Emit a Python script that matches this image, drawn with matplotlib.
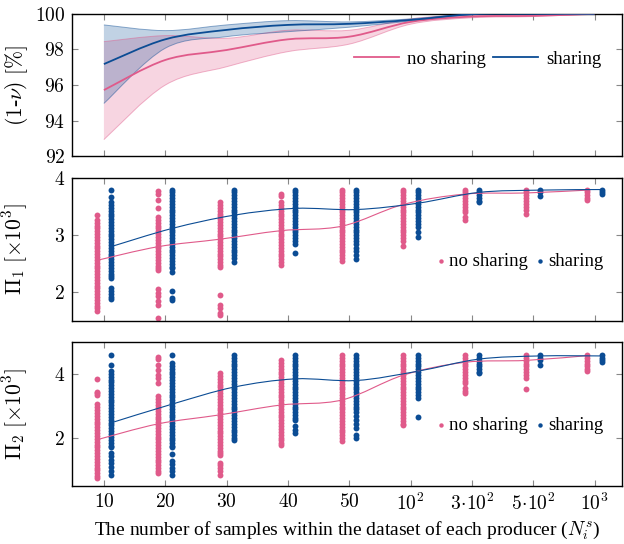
import numpy as np
import matplotlib
matplotlib.use('Agg')
import matplotlib.pyplot as plt
from matplotlib.path import Path
from matplotlib.patches import PathPatch

plt.rcParams['font.family'] = ['Liberation Serif', 'DejaVu Serif']
plt.rcParams['mathtext.fontset'] = 'cm'
plt.rcParams['font.size'] = 14

# categories on the x axis
x_labels = [r'$10$', r'$20$', r'$30$', r'$40$', r'$50$', r'$10^2$',
            r'$3\!\cdot\!10^2$', r'$5\!\cdot\!10^2$', r'$10^3$']
xpos = np.arange(1, len(x_labels) + 1)

# top panel: (1-nu) [%], mean and band
ns_mean = [95.72, 97.41, 97.97, 98.57, 98.72, 99.55, 99.85, 99.89, 100.0]
ns_lo = [92.94, 96.0, 97.03, 97.88, 98.3, 99.42, 99.78, 99.85, 100.0]
ns_hi = [98.44, 98.78, 98.63, 99.08, 99.08, 99.72, 99.95, 99.98, 100.0]
sh_mean = [97.18, 98.57, 99.1, 99.38, 99.44, 99.66, 99.98, 100.0, 100.0]
sh_lo = [94.97, 98.07, 98.72, 99.0, 99.25, 99.6, 99.95, 100.0, 100.0]
sh_hi = [99.38, 99.06, 99.38, 99.62, 99.55, 99.72, 100.0, 100.0, 100.0]

# middle panel: Pi_1 samples per column
pi1_ns = [
    [3.35, 3.27, 3.22, 3.17, 3.12, 3.07, 3.02, 2.97, 2.92, 2.87, 2.82, 2.77, 2.72, 2.67,
     2.62, 2.57, 2.52, 2.47, 2.42, 2.37, 2.32, 2.27, 2.22, 2.17, 2.12, 2.07, 2.02, 1.97,
     1.92, 1.87, 1.82, 1.77, 1.72, 1.67],
    [3.78, 3.73, 3.61, 3.47, 3.32, 3.27, 3.22, 3.17, 3.12, 3.07, 3.02, 2.97, 2.92, 2.87,
     2.82, 2.77, 2.72, 2.67, 2.62, 2.57, 2.52, 2.47, 2.43, 2.39, 2.06, 1.99, 1.93, 1.85,
     1.78, 1.56],
    [3.58, 3.53, 3.48, 3.43, 3.38, 3.33, 3.28, 3.23, 3.18, 3.13, 3.08, 3.03, 2.98, 2.93,
     2.88, 2.83, 2.78, 2.73, 2.68, 2.63, 2.58, 2.53, 2.48, 2.45, 1.95, 1.78, 1.72, 1.64,
     1.6],
    [3.73, 3.68, 3.58, 3.53, 3.48, 3.43, 3.38, 3.33, 3.28, 3.23, 3.18, 3.13, 3.08, 3.03,
     2.98, 2.93, 2.88, 2.83, 2.78, 2.73, 2.68, 2.63, 2.58, 2.53, 2.48],
    [3.8, 3.75, 3.7, 3.65, 3.6, 3.55, 3.5, 3.45, 3.4, 3.35, 3.3, 3.25, 3.2, 3.15, 3.1,
     3.05, 3.0, 2.95, 2.9, 2.85, 2.8, 2.75, 2.7, 2.65, 2.6, 2.55],
    [3.8, 3.75, 3.7, 3.65, 3.6, 3.55, 3.5, 3.45, 3.4, 3.35, 3.3, 3.25, 3.2, 3.15, 3.1,
     3.05, 3.0, 2.96, 2.9, 2.81],
    [3.8, 3.75, 3.7, 3.65, 3.6, 3.55, 3.5, 3.45, 3.4, 3.32, 3.27],
    [3.8, 3.75, 3.7, 3.65, 3.6, 3.55, 3.5, 3.45, 3.38],
    [3.8, 3.75, 3.7, 3.65, 3.62],
]
pi1_sh = [
    [3.8, 3.67, 3.58, 3.53, 3.48, 3.43, 3.38, 3.33, 3.28, 3.23, 3.18, 3.13, 3.08, 3.03,
     2.98, 2.93, 2.88, 2.83, 2.78, 2.73, 2.68, 2.63, 2.58, 2.53, 2.48, 2.43, 2.38, 2.33,
     2.28, 2.25, 2.07, 2.02, 1.97, 1.92, 1.88],
    [3.8, 3.75, 3.7, 3.65, 3.6, 3.55, 3.5, 3.45, 3.4, 3.35, 3.3, 3.25, 3.2, 3.15, 3.1,
     3.05, 3.0, 2.95, 2.9, 2.85, 2.8, 2.75, 2.7, 2.65, 2.6, 2.55, 2.5, 2.45, 2.42, 2.35,
     2.02, 1.9, 1.86],
    [3.8, 3.75, 3.7, 3.65, 3.6, 3.55, 3.5, 3.45, 3.4, 3.35, 3.3, 3.25, 3.2, 3.15, 3.1,
     3.05, 3.0, 2.95, 2.9, 2.85, 2.8, 2.75, 2.7, 2.65, 2.6, 2.54],
    [3.8, 3.75, 3.7, 3.65, 3.6, 3.55, 3.5, 3.45, 3.4, 3.35, 3.3, 3.25, 3.2, 3.15, 3.1,
     3.05, 3.0, 2.95, 2.9, 2.85, 2.69],
    [3.8, 3.75, 3.7, 3.65, 3.6, 3.55, 3.5, 3.45, 3.4, 3.35, 3.3, 3.25, 3.2, 3.15, 3.1,
     3.05, 3.0, 2.95, 2.9, 2.85, 2.78, 2.72, 2.65, 2.58],
    [3.8, 3.75, 3.7, 3.65, 3.6, 3.55, 3.5, 3.45, 3.4, 3.35, 3.3, 3.25, 3.2, 3.15, 3.06,
     2.97],
    [3.8, 3.75, 3.7, 3.65, 3.6, 3.58],
    [3.8, 3.75, 3.69],
    [3.8, 3.76, 3.72],
]
pi1_ns_line = [2.56, 2.8, 2.93, 3.08, 3.16, 3.54, 3.72, 3.74, 3.79]
pi1_sh_line = [2.8, 3.12, 3.35, 3.47, 3.45, 3.56, 3.75, 3.79, 3.8]

# bottom panel: Pi_2 samples per column
pi2_ns = [
    [3.85, 3.45, 3.4, 3.33, 3.05, 2.96, 2.87, 2.78, 2.69, 2.6, 2.51, 2.42, 2.33, 2.24,
     2.15, 2.06, 1.97, 1.88, 1.79, 1.7, 1.61, 1.52, 1.43, 1.34, 1.25, 1.16, 1.07, 0.98,
     0.89, 0.8, 0.75],
    [4.53, 4.48, 4.29, 4.13, 3.98, 3.87, 3.72, 3.3, 3.21, 3.12, 3.03, 2.94, 2.85, 2.76,
     2.67, 2.58, 2.49, 2.4, 2.31, 2.22, 2.13, 2.04, 1.95, 1.86, 1.77, 1.68, 1.59, 1.5,
     1.41, 1.32, 1.23, 1.14, 1.05, 0.96, 0.9],
    [4.03, 3.94, 3.85, 3.76, 3.67, 3.58, 3.49, 3.4, 3.31, 3.22, 3.13, 3.04, 2.95, 2.86,
     2.77, 2.68, 2.59, 2.5, 2.41, 2.32, 2.23, 2.14, 2.05, 1.96, 1.87, 1.78, 1.69, 1.6,
     1.51, 1.47, 1.22, 1.14, 1.06, 0.97, 0.85],
    [4.44, 4.35, 4.26, 4.17, 4.08, 3.99, 3.9, 3.81, 3.72, 3.63, 3.54, 3.45, 3.36, 3.27,
     3.18, 3.09, 3.0, 2.91, 2.82, 2.73, 2.64, 2.55, 2.46, 2.37, 2.28, 2.19, 2.1, 2.01,
     1.92, 1.85, 1.78],
    [4.6, 4.51, 4.42, 4.33, 4.24, 4.15, 4.06, 3.97, 3.88, 3.79, 3.7, 3.61, 3.52, 3.43,
     3.34, 3.25, 3.16, 3.07, 2.98, 2.89, 2.8, 2.71, 2.62, 2.53, 2.44, 2.35, 2.26, 2.17,
     2.08, 1.99, 1.9],
    [4.6, 4.51, 4.42, 4.33, 4.24, 4.15, 4.06, 3.97, 3.88, 3.79, 3.7, 3.61, 3.52, 3.43,
     3.34, 3.25, 3.16, 3.07, 2.98, 2.89, 2.8, 2.71, 2.62, 2.53, 2.44, 2.4],
    [4.6, 4.51, 4.42, 4.33, 4.24, 4.15, 4.06, 3.97, 3.88, 3.79, 3.72, 3.56, 3.48, 3.4],
    [4.6, 4.51, 4.42, 4.33, 4.24, 4.15, 4.06, 3.97, 3.87, 3.53],
    [4.6, 4.51, 4.42, 4.33, 4.24, 4.15, 4.1],
]
pi2_sh = [
    [4.6, 4.3, 4.1, 4.01, 3.92, 3.83, 3.74, 3.65, 3.56, 3.47, 3.38, 3.29, 3.2, 3.11,
     3.02, 2.93, 2.84, 2.75, 2.66, 2.57, 2.48, 2.39, 2.3, 2.21, 2.12, 2.03, 1.94, 1.85,
     1.76, 1.7, 1.53, 1.42, 1.3, 1.2, 1.08, 0.95, 0.85],
    [4.6, 4.35, 4.26, 4.17, 4.08, 3.99, 3.9, 3.81, 3.72, 3.63, 3.54, 3.45, 3.36, 3.27,
     3.18, 3.09, 3.0, 2.91, 2.82, 2.73, 2.64, 2.55, 2.46, 2.37, 2.28, 2.19, 2.1, 2.01,
     1.92, 1.83, 1.74, 1.7, 1.5, 1.28, 1.17, 1.05, 0.95, 0.85],
    [4.6, 4.51, 4.42, 4.33, 4.24, 4.15, 4.06, 3.97, 3.88, 3.79, 3.7, 3.61, 3.52, 3.43,
     3.34, 3.25, 3.16, 3.07, 2.98, 2.89, 2.8, 2.71, 2.62, 2.53, 2.44, 2.35, 2.26, 2.17,
     2.08, 1.99, 1.93],
    [4.6, 4.51, 4.42, 4.33, 4.24, 4.15, 4.06, 3.97, 3.88, 3.79, 3.7, 3.61, 3.52, 3.43,
     3.34, 3.25, 3.16, 3.07, 2.98, 2.89, 2.8, 2.71, 2.62, 2.56, 2.37, 2.26, 2.16],
    [4.6, 4.51, 4.42, 4.33, 4.24, 4.15, 4.06, 3.97, 3.88, 3.79, 3.7, 3.61, 3.52, 3.43,
     3.34, 3.25, 3.16, 3.07, 2.98, 2.89, 2.8, 2.68, 2.55, 2.42, 2.3, 2.1, 2.0],
    [4.6, 4.51, 4.42, 4.33, 4.24, 4.15, 4.06, 3.97, 3.88, 3.79, 3.7, 3.61, 3.52, 3.43,
     3.34, 3.25, 2.66],
    [4.6, 4.51, 4.42, 4.33, 4.24, 4.15, 4.06, 4.03],
    [4.6, 4.52, 4.45, 4.3],
    [4.6, 4.52, 4.44, 4.37],
]
pi2_ns_line = [1.94, 2.44, 2.72, 3.03, 3.19, 3.97, 4.37, 4.43, 4.58]
pi2_sh_line = [2.47, 3.06, 3.59, 3.85, 3.8, 4.09, 4.47, 4.57, 4.57]

pink = '#e05a8a'
blue = '#0b4c94'
off = 0.115


def smooth(xs, ys):
    # catmull-rom through the points, as cubic bezier segments
    p = np.column_stack([xs, ys]).astype(float)
    n = len(p)
    verts = [p[0]]
    codes = [Path.MOVETO]
    for i in range(n - 1):
        p0 = p[max(i - 1, 0)]
        p3 = p[min(i + 2, n - 1)]
        verts += [p[i] + (p[i + 1] - p0) / 6, p[i + 1] - (p3 - p[i]) / 6, p[i + 1]]
        codes += [Path.CURVE4] * 3
    return verts, codes


def band(ax, xs, lo, hi, color):
    vu, cu = smooth(xs, hi)
    vl, cl = smooth(xs, lo)
    verts = vu + vl[::-1] + [vu[0]]
    codes = cu + [Path.LINETO] + [Path.CURVE4] * (len(vl) - 1) + [Path.CLOSEPOLY]
    ax.add_patch(PathPatch(Path(verts, codes), facecolor=color, alpha=0.25,
                           edgecolor='none', zorder=1))
    for v, c in ((vu, cu), (vl, cl)):
        ax.add_patch(PathPatch(Path(v, c), facecolor='none', edgecolor=color,
                               alpha=0.45, lw=0.7, zorder=1.5))


def curve(ax, xs, ys, color, lw, label=None):
    v, c = smooth(xs, ys)
    ax.add_patch(PathPatch(Path(v, c), facecolor='none', edgecolor=color, lw=lw, zorder=3))
    if label:
        ax.plot([], [], color=color, lw=lw, label=label)


def style(ax):
    ax.set_xlim(0.48, 9.45)
    ax.set_xticks(xpos)
    ax.tick_params(direction='in', top=True, right=True, length=4, color='#888888',
                   labelsize=14, pad=5)
    for s in ax.spines.values():
        s.set_linewidth(1.0)
    ax.yaxis.set_label_coords(-0.076, 0.5)


fig = plt.figure(figsize=(6.24, 5.44), dpi=100)
ax0 = fig.add_axes([0.1154, 0.7126, 0.8816, 0.2619])
ax1 = fig.add_axes([0.1154, 0.4100, 0.8816, 0.2626])
ax2 = fig.add_axes([0.1154, 0.1072, 0.8816, 0.2637])

# top panel
band(ax0, xpos, ns_lo, ns_hi, pink)
band(ax0, xpos, sh_lo, sh_hi, blue)
curve(ax0, xpos, ns_mean, pink, 1.3, 'no sharing')
curve(ax0, xpos, sh_mean, blue, 1.3, 'sharing')
ax0.set_ylim(92, 100)
ax0.set_yticks([92, 94, 96, 98, 100])
ax0.set_yticklabels([r'$%d$' % v for v in [92, 94, 96, 98, 100]])
ax0.set_xticklabels([])
ax0.set_ylabel(r'$(1$-$\nu)\ [\%]$', fontsize=15.5)
ax0.legend(loc='center', bbox_to_anchor=(0.737, 0.68), ncol=2, frameon=False,
           handlelength=2.4, handletextpad=0.45, columnspacing=0.35, fontsize=13.5)

# scatter panels
panels = [(ax1, pi1_ns, pi1_sh, pi1_ns_line, pi1_sh_line),
          (ax2, pi2_ns, pi2_sh, pi2_ns_line, pi2_sh_line)]
for ax, ns, sh, ns_line, sh_line in panels:
    for i in range(len(xpos)):
        ax.scatter(np.full(len(ns[i]), xpos[i] - off), ns[i], s=18, color=pink,
                   linewidths=0, zorder=2, label='no sharing' if i == 0 else None)
        ax.scatter(np.full(len(sh[i]), xpos[i] + off), sh[i], s=18, color=blue,
                   linewidths=0, zorder=2, label='sharing' if i == 0 else None)
    curve(ax, xpos - off, ns_line, pink, 0.8)
    curve(ax, xpos + off, sh_line, blue, 0.8)
    ax.legend(loc='center', bbox_to_anchor=(0.815, 0.42), ncol=2, frameon=False,
              handlelength=0.4, handletextpad=0.25, columnspacing=0.45, fontsize=13.5,
              markerscale=0.75)

ax1.set_ylim(1.5, 4)
ax1.set_yticks([2, 3, 4])
ax1.set_yticklabels([r'$2$', r'$3$', r'$4$'])
ax1.set_xticklabels([])
ax1.set_ylabel(r'$\Pi_1\ [\times 10^3]$', fontsize=15.5)

ax2.set_ylim(0.5, 5)
ax2.set_yticks([2, 4])
ax2.set_yticklabels([r'$2$', r'$4$'])
ax2.set_xticklabels(x_labels)
ax2.set_ylabel(r'$\Pi_2\ [\times 10^3]$', fontsize=15.5)
ax2.set_xlabel(r'The number of samples within the dataset of each producer ($N_i^s$)',
               fontsize=14, labelpad=4)

for ax in (ax0, ax1, ax2):
    style(ax)

fig.savefig('out.png', dpi=100)
